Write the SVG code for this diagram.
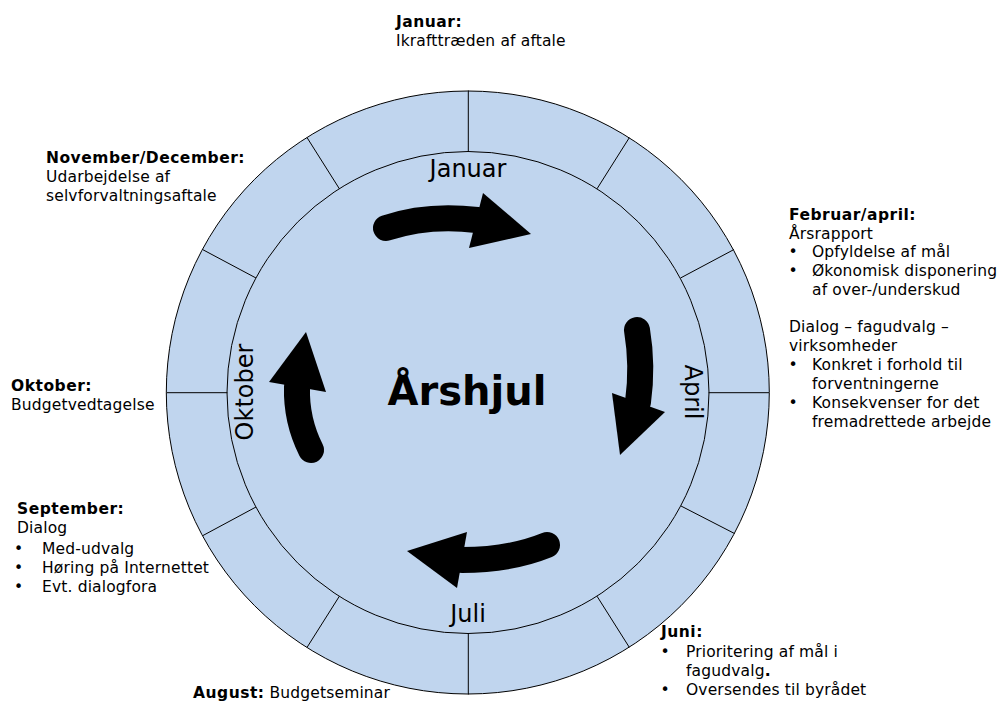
<svg xmlns="http://www.w3.org/2000/svg" width="1002" height="702" viewBox="0 0 1002 702">
<style>
text{font-family:"DejaVu Sans","Liberation Sans",sans-serif;fill:#000}
.t{font-size:15.5px;letter-spacing:0.15px}
.b{font-weight:bold;letter-spacing:0.5px}
.m{font-size:24px}
.ring{fill:#C0D5EE;stroke:#000;stroke-width:1}
.rad{stroke:#000;stroke-width:1}
.body{fill:none;stroke:#000;stroke-width:26;stroke-linecap:round}
</style>
<rect width="1002" height="702" fill="#fff"/>
<g id="wheel">
<circle class="ring" cx="467.8" cy="392.5" r="301.5"/>
<circle class="ring" cx="468" cy="392.5" r="241"/>
<g class="rad">
<line x1="468.3" y1="90.5" x2="468.3" y2="151.5"/>
<line x1="468.3" y1="633.5" x2="468.3" y2="694.5"/>
<line x1="166.5" y1="392.7" x2="227.5" y2="392.7"/>
<line x1="708.5" y1="392.7" x2="769" y2="392.7"/>
<line x1="339.4" y1="188.8" x2="307.1" y2="137.7"/>
<line x1="597" y1="188.8" x2="629.3" y2="137.7"/>
<line x1="339.4" y1="596.2" x2="307.1" y2="647.3"/>
<line x1="597" y1="596.2" x2="629.3" y2="647.3"/>
<line x1="256" y1="278" x2="202.5" y2="249.5"/>
<line x1="680.5" y1="278" x2="734" y2="249.5"/>
<line x1="256" y1="507" x2="203" y2="535.5"/>
<line x1="681" y1="506" x2="734.5" y2="533.5"/>
</g>
</g>
<g id="arrows">
<g id="arrow-top"><path class="body" d="M 386 228 Q 428 214 477 220"/><polygon points="483,193 531,234 469,248"/></g>
<g id="arrow-right"><path class="body" d="M 637 330 Q 643 366 638 402"/><polygon points="612,393 665,412 620,455"/></g>
<g id="arrow-bottom"><path class="body" d="M 547 545 Q 510 560 462 560"/><polygon points="467,532 407,551 457,588"/></g>
<g id="arrow-left"><path class="body" d="M 311 450 Q 296 420 297 387"/><polygon points="306,332 269,382 326,392"/></g>
</g>
<g id="month-labels">
<text class="m" x="468" y="177" text-anchor="middle">Januar</text>
<text class="m" x="468" y="622" text-anchor="middle">Juli</text>
<text class="m" transform="translate(253,392) rotate(-90)" text-anchor="middle">Oktober</text>
<text class="m" transform="translate(685,392) rotate(90)" text-anchor="middle">April</text>
</g>
<g id="title"><text x="467" y="405" text-anchor="middle" font-size="40" font-weight="bold">Årshjul</text></g>
<g id="note-januar">
<text class="t b" x="396" y="27">Januar:</text>
<text class="t" x="396" y="46">Ikrafttræden af aftale</text>
</g>
<g id="note-novdec">
<text class="t b" x="46" y="163">November/December:</text>
<text class="t" x="46" y="182">Udarbejdelse af</text>
<text class="t" x="46" y="201">selvforvaltningsaftale</text>
</g>
<g id="note-febapril">
<text class="t b" x="789" y="220">Februar/april:</text>
<text class="t" x="789" y="238.5">Årsrapport</text>
<text class="t" x="788.5" y="257">•</text><text class="t" x="812" y="257">Opfyldelse af mål</text>
<text class="t" x="788.5" y="276">•</text><text class="t" x="812" y="276">Økonomisk disponering</text>
<text class="t" x="812" y="295">af over-/underskud</text>
<text class="t" x="789" y="332">Dialog – fagudvalg –</text>
<text class="t" x="789" y="351">virksomheder</text>
<text class="t" x="788.5" y="370">•</text><text class="t" x="812" y="370">Konkret i forhold til</text>
<text class="t" x="812" y="389">forventningerne</text>
<text class="t" x="788.5" y="408">•</text><text class="t" x="812" y="408">Konsekvenser for det</text>
<text class="t" x="812" y="427">fremadrettede arbejde</text>
</g>
<g id="note-oktober">
<text class="t b" x="11" y="391">Oktober:</text>
<text class="t" x="11" y="410">Budgetvedtagelse</text>
</g>
<g id="note-september">
<text class="t b" x="17" y="514">September:</text>
<text class="t" x="17" y="533">Dialog</text>
<text class="t" x="14" y="553.5">•</text><text class="t" x="42" y="553.5">Med-udvalg</text>
<text class="t" x="14" y="572.5">•</text><text class="t" x="42" y="572.5">Høring på Internettet</text>
<text class="t" x="14" y="591.5">•</text><text class="t" x="42" y="591.5">Evt. dialogfora</text>
</g>
<g id="note-august">
<text class="t" x="193" y="698"><tspan class="b">August:</tspan> Budgetseminar</text>
</g>
<g id="note-juni">
<text class="t b" x="661" y="637">Juni:</text>
<text class="t" x="660.5" y="656.5">•</text><text class="t" x="686" y="656.5">Prioritering af mål i</text>
<text class="t" x="686" y="675.5">fagudvalg<tspan class="b">.</tspan></text>
<text class="t" x="660.5" y="694.5">•</text><text class="t" x="686" y="694.5">Oversendes til byrådet</text>
</g>
</svg>
